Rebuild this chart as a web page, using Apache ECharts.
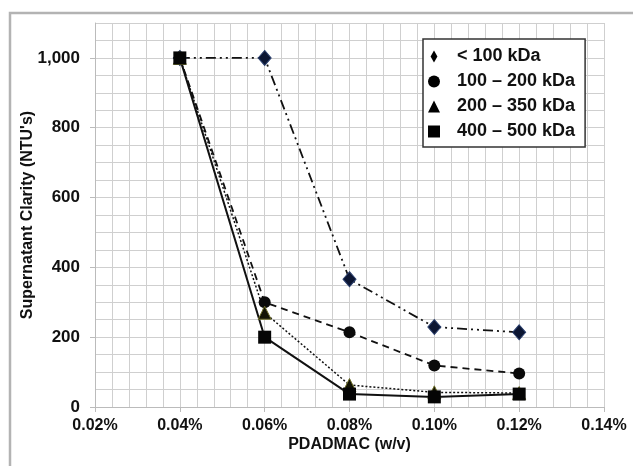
<!DOCTYPE html>
<html lang="en">
<head>
	<meta charset="UTF-8">
	<title>Supernatant Clarity</title>
	<style>
		html,body{margin:0;padding:0;background:#fff;}
		#chart{width:633px;height:466px;}
	</style>
</head>
<body>
	<div id="chart"></div>
	<script src="https://cdn.jsdelivr.net/npm/echarts@6/dist/echarts.min.js"></script>
	<script>
		// PDADMAC dose, % w/v
		var doses = [0.04, 0.06, 0.08, 0.10, 0.12];
		var names = ['< 100 kDa', '100 – 200 kDa', '200 – 350 kDa', '400 – 500 kDa'];
		var under100 = [1000, 1000, 366, 229, 214];
		var mw100to200 = [1000, 300, 214, 119, 96];
		var mw200to350 = [1000, 270, 63, 42, 40];
		var mw400to500 = [1000, 200, 37, 29, 37];

		var font = '"Liberation Sans", Arial, sans-serif';
		var gridColor = '#cfcfcf';

		function pairs(vals){
			return doses.map(function(d, i){ return [d, vals[i]]; });
		}
		var black = {color: '#000', borderColor: '#000', borderWidth: 0};

		var option = {
			animation: false,
			graphic: [{
				type: 'rect',
				shape: {x: 10, y: 13, width: 700, height: 500},
				style: {fill: 'none', stroke: '#b3b3b3', lineWidth: 2.5},
				silent: true
			}],
			grid: {left: 95, right: 29, top: 23, bottom: 59},
			legend: {
				orient: 'vertical',
				left: 423,
				top: 39,
				padding: [8, 10, 6, 5],
				itemGap: 6,
				itemWidth: 12,
				itemHeight: 12,
				backgroundColor: '#fff',
				borderColor: '#333',
				borderWidth: 1.5,
				borderRadius: 0,
				textStyle: {fontFamily: font, fontWeight: 'bold', fontSize: 18, color: '#111', lineHeight: 19, padding: [0, 0, 0, 12]},
				data: [
					{name: names[0], icon: 'path://M4,0 L8,7 L4,14 L0,7 Z', itemStyle: black},
					{name: names[1], icon: 'circle', itemStyle: black},
					{name: names[2], icon: 'triangle', itemStyle: black},
					{name: names[3], icon: 'rect', itemStyle: black}
				]
			},
			xAxis: [{
				type: 'value',
				min: 0.02, max: 0.14, interval: 0.02,
				name: 'PDADMAC (w/v)',
				nameLocation: 'middle',
				nameGap: 30,
				nameMoveOverlap: false,
				nameTextStyle: {fontFamily: font, fontWeight: 'bold', fontSize: 16, color: '#111'},
				axisLine: {lineStyle: {color: '#bbb'}},
				axisTick: {show: true, length: 5, lineStyle: {color: '#bbb'}},
				axisLabel: {
					margin: 11,
					fontFamily: font, fontWeight: 'bold', fontSize: 16, color: '#111',
					formatter: function(v){ return v.toFixed(2) + '%'; }
				},
				splitLine: {show: false}
			}, {
				type: 'value',
				min: 0.02, max: 0.14, interval: 0.004,
				position: 'bottom',
				axisLine: {show: false},
				axisTick: {show: false},
				axisLabel: {show: false},
				splitLine: {show: true, lineStyle: {color: gridColor, width: 1}}
			}],
			yAxis: [{
				type: 'value',
				min: 0, max: 1100, interval: 200,
				name: "Supernatant Clarity (NTU's)",
				nameLocation: 'middle',
				nameGap: 59,
				nameMoveOverlap: false,
				nameTextStyle: {fontFamily: font, fontWeight: 'bold', fontSize: 16, color: '#111'},
				axisLine: {show: true, lineStyle: {color: '#bbb'}},
				axisTick: {show: true, length: 5, lineStyle: {color: '#bbb'}},
				axisLabel: {
					margin: 15,
					showMaxLabel: false,
					fontFamily: font, fontWeight: 'bold', fontSize: 17, color: '#111',
					formatter: function(v){ return v >= 1000 ? '1,' + String(v).slice(1) : String(v); }
				},
				splitLine: {show: false}
			}, {
				type: 'value',
				min: 0, max: 1100, interval: 50,
				position: 'left',
				axisLine: {show: false},
				axisTick: {show: false},
				axisLabel: {show: false},
				splitLine: {show: true, lineStyle: {color: gridColor, width: 1}}
			}],
			series: [{
				name: names[0],
				type: 'line',
				data: pairs(under100),
				symbol: 'diamond',
				symbolSize: [13, 15],
				itemStyle: {color: '#0c1633', borderColor: '#2a3f6e', borderWidth: 1},
				lineStyle: {color: '#111', width: 1.8, type: [10, 4, 2, 4, 2, 4]}
			}, {
				name: names[1],
				type: 'line',
				data: pairs(mw100to200),
				symbol: 'circle',
				symbolSize: 12,
				itemStyle: {color: '#0a0a0a'},
				lineStyle: {color: '#111', width: 1.8, type: [7, 5]}
			}, {
				name: names[2],
				type: 'line',
				data: pairs(mw200to350),
				symbol: 'triangle',
				symbolSize: 13,
				itemStyle: {color: '#141405', borderColor: '#6f6f2a', borderWidth: 1},
				lineStyle: {color: '#111', width: 1.5, type: [2, 2]}
			}, {
				name: names[3],
				type: 'line',
				data: pairs(mw400to500),
				symbol: 'rect',
				symbolSize: 13,
				itemStyle: {color: '#050505'},
				lineStyle: {color: '#111', width: 2, type: 'solid'}
			}]
		};

		var myChart = echarts.init(document.getElementById('chart'), null, {renderer: 'canvas'});
		myChart.setOption(option);
	</script>
</body>
</html>
